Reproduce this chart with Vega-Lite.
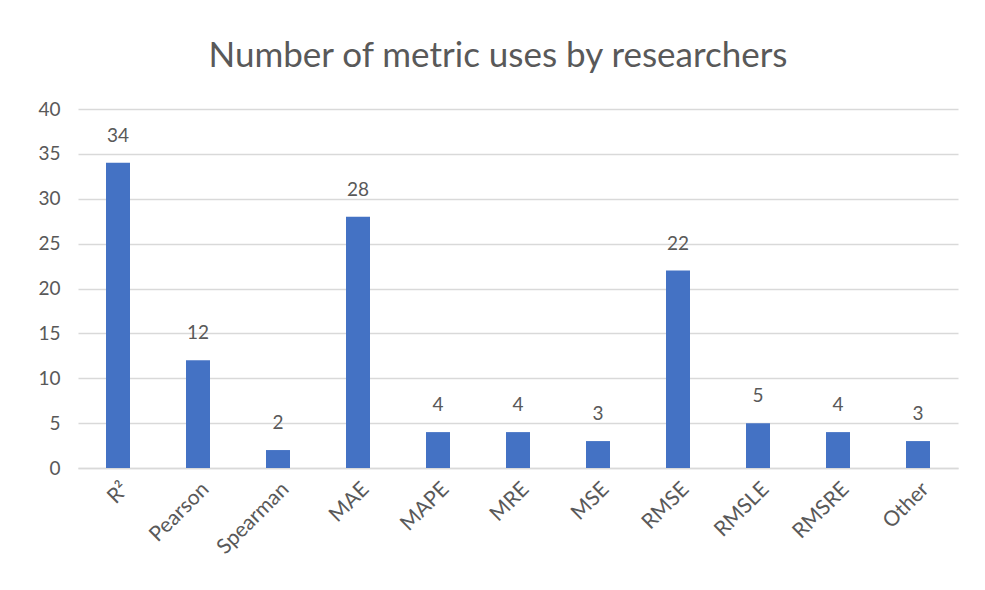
{
  "$schema": "https://vega.github.io/schema/vega-lite/v6.json",
  "autosize": "none",
  "width": 880,
  "height": 359,
  "padding": {"left": 78, "top": 109, "right": 27, "bottom": 122},
  "background": "white",
  "title": {
    "text": "Number of metric uses by researchers",
    "font": "Lato",
    "fontSize": 35,
    "fontWeight": "normal",
    "color": "#595959",
    "anchor": "middle",
    "frame": "bounds",
    "offset": 26
  },
  "data": {
    "values": [
      {"metric": "R²", "count": 34},
      {"metric": "Pearson", "count": 12},
      {"metric": "Spearman", "count": 2},
      {"metric": "MAE", "count": 28},
      {"metric": "MAPE", "count": 4},
      {"metric": "MRE", "count": 4},
      {"metric": "MSE", "count": 3},
      {"metric": "RMSE", "count": 22},
      {"metric": "RMSLE", "count": 5},
      {"metric": "RMSRE", "count": 4},
      {"metric": "Other", "count": 3}
    ]
  },
  "encoding": {
    "x": {
      "field": "metric",
      "type": "nominal",
      "sort": null,
      "scale": {"paddingInner": 0.7, "paddingOuter": 0.35},
      "axis": {
        "title": null,
        "labelAngle": -45,
        "labelFont": "Lato",
        "labelFontSize": 21,
        "labelColor": "#595959",
        "ticks": false,
        "domainColor": "#d9d9d9",
        "domainWidth": 1.5,
        "labelPadding": 10
      }
    },
    "y": {
      "field": "count",
      "type": "quantitative",
      "scale": {"domain": [0, 40]},
      "axis": {
        "title": null,
        "values": [0, 5, 10, 15, 20, 25, 30, 35, 40],
        "labelFont": "Lato",
        "labelFontSize": 19,
        "labelColor": "#595959",
        "ticks": false,
        "domain": false,
        "gridColor": "#d9d9d9",
        "gridWidth": 1.5,
        "labelPadding": 18
      }
    }
  },
  "layer": [
    {"mark": {"type": "bar", "color": "#4472c4"}},
    {
      "mark": {"type": "text", "dy": -27, "font": "Lato", "fontSize": 19, "color": "#595959"},
      "encoding": {"text": {"field": "count", "type": "quantitative"}}
    }
  ],
  "config": {"view": {"stroke": null}}
}
